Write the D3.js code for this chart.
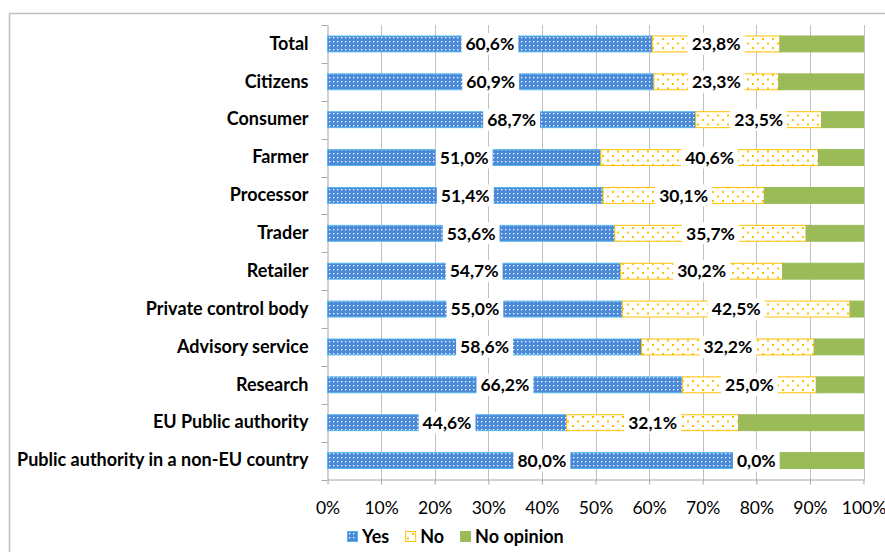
<!DOCTYPE html>
<html><head><meta charset="utf-8">
<script src="https://cdn.jsdelivr.net/npm/d3@7"></script>
<style>body{margin:0;background:#fff;} svg{display:block;}</style>
</head><body>
<svg id="chart" width="885" height="552"></svg>
<script>
const categories = ["Total","Citizens","Consumer","Farmer","Processor","Trader","Retailer","Private control body","Advisory service","Research","EU Public authority","Public authority in a non-EU country"];
const yesValues = [60.6,60.9,68.7,51.0,51.4,53.6,54.7,55.0,58.6,66.2,44.6,80.0];
const noValues = [23.8,23.3,23.5,40.6,30.1,35.7,30.2,42.5,32.2,25.0,32.1,0.0];
const noOpinionValues = [15.6,15.8,7.8,8.4,18.5,10.7,15.1,2.5,9.2,8.8,23.3,20.0];
const seriesNames = ["Yes","No","No opinion"];
const tickValues = [0,10,20,30,40,50,60,70,80,90,100];

const svg = d3.select("#chart");
const FONT = "Lato, 'Open Sans', sans-serif";

// patterns
const defs = svg.append("defs");
const pBlue = defs.append("pattern").attr("id","pYes").attr("patternUnits","userSpaceOnUse").attr("width",4).attr("height",4);
pBlue.append("rect").attr("width",4).attr("height",4).attr("fill","#4a8ad8");
pBlue.append("rect").attr("x",1).attr("y",1).attr("width",1.3).attr("height",1.3).attr("fill","#ffffff");
const pYel = defs.append("pattern").attr("id","pNo").attr("patternUnits","userSpaceOnUse").attr("width",10).attr("height",9);
pYel.append("rect").attr("width",10).attr("height",9).attr("fill","#ffffff");
pYel.append("rect").attr("x",2).attr("y",2).attr("width",2).attr("height",2).attr("fill","#ffc000");
pYel.append("rect").attr("x",7).attr("y",6.5).attr("width",2).attr("height",2).attr("fill","#ffc000");

// outer frame
svg.append("path").attr("d","M9.5,560 V13.5 H890").attr("fill","none").attr("stroke","#bfbfbf").attr("stroke-width",1.5);

const x = d3.scaleLinear().domain([0,100]).range([327.5,863.5]);
const y = d3.scaleBand().domain(categories).range([25,479.5]).paddingInner(0.58).paddingOuter(0.29);
const top0 = y.range()[0], bot0 = y.range()[1];

// gridlines
svg.append("g").selectAll("line").data(tickValues.slice(1)).join("line")
  .attr("x1",d=>Math.round(x(d))+0.5).attr("x2",d=>Math.round(x(d))+0.5)
  .attr("y1",top0).attr("y2",bot0).attr("stroke","#c0c0c0").attr("stroke-width",1);

// bottom axis
const xAxis = d3.axisBottom(x).tickValues(tickValues).tickFormat(d=>d+"%").tickSize(5).tickSizeOuter(0);
const gx = svg.append("g").attr("transform",`translate(0,${bot0})`).call(xAxis);
gx.select(".domain").attr("stroke","#a6a6a6");
gx.selectAll(".tick line").attr("stroke","#a6a6a6");
gx.selectAll(".tick text").attr("y",28).attr("dy","0.35em").attr("font-family",FONT).attr("font-size",17.5).attr("fill","#000");

// left axis
const yAxis = d3.axisLeft(y).tickSize(0).tickPadding(19);
const gy = svg.append("g").attr("transform",`translate(${x(0)},0)`).call(yAxis);
gy.select(".domain").attr("stroke","#a6a6a6");
gy.selectAll(".tick text").attr("font-family",FONT).attr("font-size",18).attr("font-weight","bold").attr("fill","#000");
svg.append("g").selectAll("line").data(d3.range(categories.length+1)).join("line")
  .attr("x1",x(0)-6).attr("x2",x(0)).attr("y1",i=>Math.round(top0+i*y.step())+0.5).attr("y2",i=>Math.round(top0+i*y.step())+0.5)
  .attr("stroke","#a6a6a6");

// stacked data
const rows = categories.map((c,i)=>({cat:c, Yes:yesValues[i], No:noValues[i], "No opinion":noOpinionValues[i]}));
const stack = d3.stack().keys(seriesNames)(rows);
const fills = {"Yes":"url(#pYes)","No":"url(#pNo)","No opinion":"#9bbb59"};
const strokes = {"Yes":"#55b7ee","No":"#ffc000","No opinion":"#9bbb59"};

const bars = svg.append("g");
stack.forEach(s=>{
  bars.append("g").selectAll("rect").data(s.filter(d=>d[1]-d[0]>0)).join("rect")
    .attr("x",d=>x(d[0])).attr("width",d=>x(d[1])-x(d[0]))
    .attr("y",d=>y(d.data.cat)).attr("height",y.bandwidth())
    .attr("fill",fills[s.key]).attr("stroke",strokes[s.key]).attr("stroke-width",1);
});

// labels for Yes and No
const lab = svg.append("g");
stack.slice(0,2).forEach(s=>{
  s.forEach(d=>{
    const val = d[1]-d[0];
    const cx = x((d[0]+d[1])/2), cy = y(d.data.cat)+y.bandwidth()/2;
    const g = lab.append("g");
    const t = g.append("text").attr("x",cx).attr("y",cy).attr("dy","0.36em").attr("text-anchor","middle")
      .attr("font-family",FONT).attr("font-size",17.5).attr("font-weight","bold").attr("fill","#000")
      .text(val.toFixed(1).replace(".",",")+"%");
    const w = t.node().getComputedTextLength();
    g.insert("rect","text").attr("x",cx-w/2-4).attr("y",cy-11).attr("width",w+8).attr("height",22).attr("fill","#fff");
  });
});

// legend
const leg = svg.append("g");
let lx = 347;
const ly = 537;
seriesNames.forEach(name=>{
  leg.append("rect").attr("x",lx+0.5).attr("y",ly-5.5).attr("width",10).attr("height",10)
    .attr("fill",fills[name]).attr("stroke",strokes[name]).attr("stroke-width",1);
  const t = leg.append("text").attr("x",lx+15).attr("y",ly).attr("dy","0.36em")
    .attr("font-family",FONT).attr("font-size",18).attr("font-weight","bold").attr("fill","#000").text(name);
  lx += 15 + t.node().getComputedTextLength() + 16;
});
</script>
</body></html>
